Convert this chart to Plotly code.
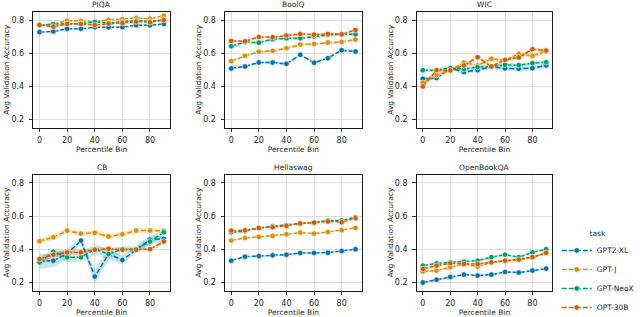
import plotly.graph_objects as go

PERCENTILE_BIN = [0, 10, 20, 30, 40, 50, 60, 70, 80, 90]
MODELS = ["GPT2-XL", "GPT-J", "GPT-NeoX", "OPT-30B"]
TASKS = ["PIQA", "BoolQ", "WIC", "CB", "Hellaswag", "OpenBookQA"]
Y_TICKS = [0.2, 0.4, 0.6, 0.8]
X_TICKS = [0, 20, 40, 60, 80]

# ---- PIQA ----
piqa_gpt2xl = [0.727, 0.731, 0.747, 0.747, 0.756, 0.756, 0.757, 0.768, 0.768, 0.776]
piqa_gptj = [0.770, 0.775, 0.795, 0.795, 0.789, 0.801, 0.805, 0.812, 0.807, 0.826]
piqa_neox = [0.770, 0.775, 0.778, 0.778, 0.788, 0.782, 0.788, 0.796, 0.790, 0.803]
piqa_opt = [0.770, 0.760, 0.776, 0.776, 0.770, 0.778, 0.782, 0.790, 0.787, 0.800]
# ---- BoolQ ----
boolq_gpt2xl = [0.508, 0.520, 0.544, 0.544, 0.536, 0.590, 0.542, 0.570, 0.618, 0.610]
boolq_gptj = [0.552, 0.584, 0.608, 0.614, 0.630, 0.652, 0.656, 0.664, 0.668, 0.682]
boolq_neox = [0.642, 0.666, 0.664, 0.684, 0.690, 0.690, 0.700, 0.710, 0.714, 0.714]
boolq_opt = [0.674, 0.672, 0.698, 0.696, 0.706, 0.716, 0.712, 0.716, 0.714, 0.740]
# ---- WIC ----
wic_gpt2xl = [0.446, 0.450, 0.510, 0.486, 0.498, 0.518, 0.508, 0.506, 0.510, 0.526]
wic_gptj = [0.422, 0.468, 0.496, 0.544, 0.526, 0.566, 0.556, 0.596, 0.584, 0.610]
wic_neox = [0.498, 0.498, 0.510, 0.504, 0.516, 0.520, 0.530, 0.528, 0.540, 0.546]
wic_opt = [0.400, 0.498, 0.496, 0.526, 0.576, 0.520, 0.560, 0.574, 0.624, 0.616]
# ---- CB ----
cb_gpt2xl = [0.327, 0.331, 0.373, 0.452, 0.235, 0.371, 0.335, 0.397, 0.458, 0.462]
cb_gptj = [0.448, 0.472, 0.512, 0.494, 0.499, 0.477, 0.490, 0.512, 0.512, 0.511]
cb_neox = [0.321, 0.385, 0.351, 0.351, 0.400, 0.371, 0.400, 0.400, 0.446, 0.502]
cb_opt = [0.341, 0.367, 0.381, 0.381, 0.397, 0.403, 0.397, 0.397, 0.400, 0.446]
# ---- Hellaswag ----
hella_gpt2xl = [0.331, 0.355, 0.359, 0.363, 0.367, 0.377, 0.377, 0.379, 0.389, 0.400]
hella_gptj = [0.452, 0.468, 0.474, 0.480, 0.490, 0.500, 0.494, 0.504, 0.514, 0.528]
hella_neox = [0.502, 0.508, 0.528, 0.538, 0.544, 0.556, 0.562, 0.573, 0.573, 0.593]
hella_opt = [0.512, 0.514, 0.528, 0.532, 0.540, 0.555, 0.560, 0.567, 0.563, 0.587]
# ---- OpenBookQA ----
obqa_gpt2xl = [0.200, 0.216, 0.233, 0.247, 0.241, 0.247, 0.263, 0.259, 0.271, 0.283]
obqa_gptj = [0.265, 0.271, 0.291, 0.311, 0.295, 0.321, 0.331, 0.341, 0.352, 0.376]
obqa_neox = [0.301, 0.315, 0.321, 0.325, 0.331, 0.352, 0.367, 0.352, 0.381, 0.400]
obqa_opt = [0.281, 0.301, 0.315, 0.311, 0.311, 0.321, 0.331, 0.337, 0.352, 0.378]

# confidence band half-widths (CB has wide bands)
cb_ci_gpt2xl = [0.045, 0.040, 0.030, 0.020, 0.045, 0.030, 0.025, 0.020, 0.025, 0.015]
cb_ci_gptj = [0.018, 0.020, 0.015, 0.015, 0.015, 0.018, 0.015, 0.018, 0.015, 0.015]
cb_ci_neox = [0.025, 0.020, 0.030, 0.030, 0.030, 0.030, 0.020, 0.020, 0.025, 0.020]
cb_ci_opt = [0.020, 0.015, 0.015, 0.015, 0.015, 0.015, 0.012, 0.012, 0.012, 0.015]
task_ci = {"PIQA": 0.005, "BoolQ": 0.008, "WIC": 0.012, "Hellaswag": 0.004, "OpenBookQA": 0.006}

values = {
    "PIQA": [piqa_gpt2xl, piqa_gptj, piqa_neox, piqa_opt],
    "BoolQ": [boolq_gpt2xl, boolq_gptj, boolq_neox, boolq_opt],
    "WIC": [wic_gpt2xl, wic_gptj, wic_neox, wic_opt],
    "CB": [cb_gpt2xl, cb_gptj, cb_neox, cb_opt],
    "Hellaswag": [hella_gpt2xl, hella_gptj, hella_neox, hella_opt],
    "OpenBookQA": [obqa_gpt2xl, obqa_gptj, obqa_neox, obqa_opt],
}
cis = {"CB": [cb_ci_gpt2xl, cb_ci_gptj, cb_ci_neox, cb_ci_opt]}
for t in TASKS:
    if t not in cis:
        cis[t] = [[task_ci[t]] * len(PERCENTILE_BIN) for _ in MODELS]

COLORS = ["#0173b2", "#de8f05", "#029e73", "#d55e00"]
FILLS = ["rgba(1,115,178,0.2)", "rgba(222,143,5,0.2)", "rgba(2,158,115,0.2)", "rgba(213,94,0,0.2)"]

W, H = 640, 317
col_px = [(33.3, 170.0), (225.0, 361.7), (416.7, 552.3)]
row_px = [(11.7, 127.9), (174.5, 290.7)]

FONT = "DejaVu Sans"
TXT = "#262626"

fig = go.Figure()
layout = {}
annotations = []
for i, task in enumerate(TASKS):
    r, c = divmod(i, 3)
    n = i + 1
    xa = "x" if n == 1 else f"x{n}"
    ya = "y" if n == 1 else f"y{n}"
    for m, model in enumerate(MODELS):
        y = values[task][m]
        ci = cis[task][m]
        upper = [a + b for a, b in zip(y, ci)]
        lower = [a - b for a, b in zip(y, ci)]
        fig.add_trace(go.Scatter(
            x=PERCENTILE_BIN + PERCENTILE_BIN[::-1], y=upper + lower[::-1],
            fill="toself", fillcolor=FILLS[m], line=dict(width=0),
            mode="lines", hoverinfo="skip", showlegend=False, xaxis=xa, yaxis=ya))
    for m, model in enumerate(MODELS):
        fig.add_trace(go.Scatter(
            x=PERCENTILE_BIN, y=values[task][m], mode="lines+markers", name=model,
            legendgroup=model, showlegend=(i == 0),
            line=dict(color=COLORS[m], width=1.5, dash="5px,2px"),
            marker=dict(color=COLORS[m], size=5.5, line=dict(color="white", width=0.6)),
            xaxis=xa, yaxis=ya))
    x0, x1 = col_px[c]
    y0, y1 = row_px[r]
    xd = [x0 / W, x1 / W]
    yd = [1 - y1 / H, 1 - y0 / H]
    common = dict(showgrid=True, gridcolor="#dedede", gridwidth=1.2, zeroline=False,
                  showline=True, mirror=True, linecolor="#1a1a1a", linewidth=1,
                  ticks="outside", ticklen=3.5, tickwidth=1, tickcolor="#333",
                  tickfont=dict(family=FONT, size=8, color=TXT), automargin=False)
    layout["xaxis" if n == 1 else f"xaxis{n}"] = dict(
        domain=xd, range=[-4.5, 94.5], tickvals=X_TICKS, anchor=ya, ticklabelstandoff=1,
        title=dict(text="Percentile Bin", font=dict(family=FONT, size=7.5, color=TXT), standoff=1),
        **common)
    layout["yaxis" if n == 1 else f"yaxis{n}"] = dict(
        domain=yd, range=[0.15, 0.85], tickvals=Y_TICKS, ticktext=[f"{v:.1f}" for v in Y_TICKS],
        anchor=xa, ticklabelstandoff=3,
        title=dict(text="Avg Validation Accuracy", font=dict(family=FONT, size=7.5, color=TXT), standoff=0),
        **common)
    annotations.append(dict(text=task, x=(xd[0] + xd[1]) / 2, y=yd[1], xref="paper", yref="paper",
                            xanchor="center", yanchor="bottom", yshift=1, showarrow=False,
                            font=dict(family=FONT, size=7.5, color=TXT)))

fig.update_layout(
    width=W, height=H, margin=dict(l=0, r=0, t=0, b=0, autoexpand=False),
    paper_bgcolor="white", plot_bgcolor="white",
    font=dict(family=FONT, color=TXT),
    annotations=annotations,
    legend=dict(x=0.870, y=0.135, xanchor="left", yanchor="middle",
                title=dict(text="task", side="top center", font=dict(family=FONT, size=7.5, color=TXT)),
                font=dict(family=FONT, size=7.5, color=TXT), bgcolor="rgba(0,0,0,0)",
                itemwidth=30, tracegroupgap=0),
    **layout,
)
fig.write_html("out.html", config={"displayModeBar": False},
               post_script="document.body.style.margin='0';document.body.style.overflow='hidden';")
